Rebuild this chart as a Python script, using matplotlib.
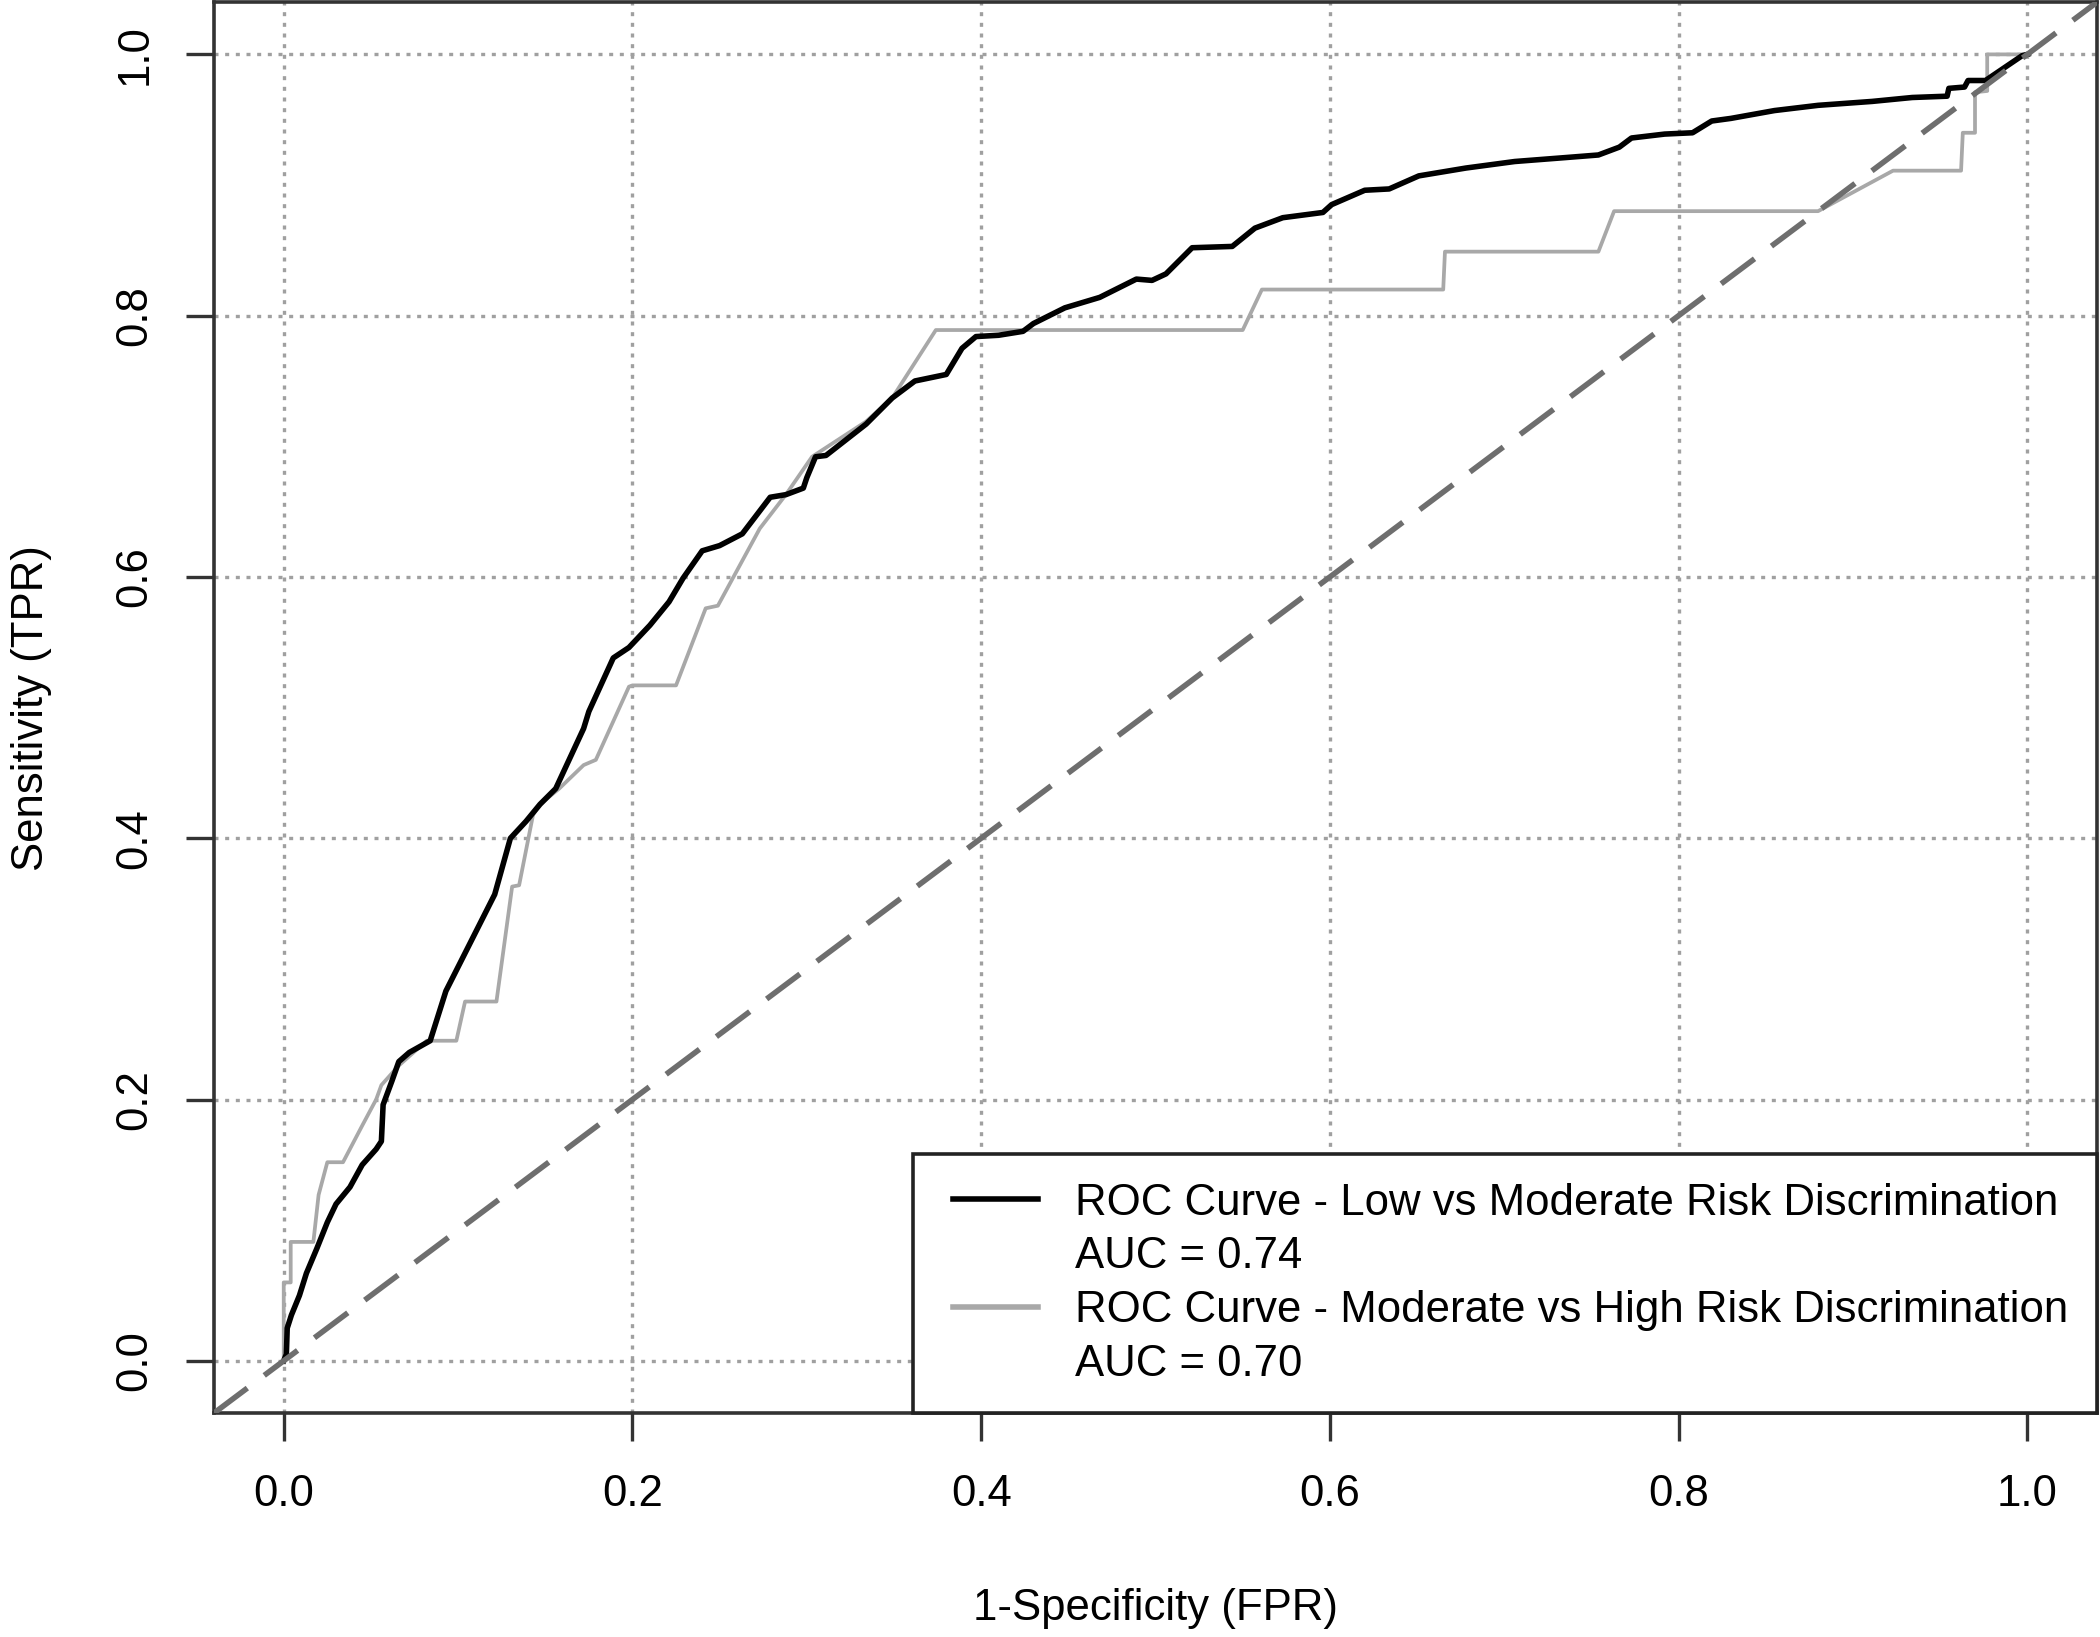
import matplotlib
matplotlib.use('Agg')
import matplotlib.pyplot as plt
from matplotlib.lines import Line2D
from matplotlib.legend_handler import HandlerLine2D

plt.rcParams['font.family'] = ['Liberation Sans', 'DejaVu Sans']

# --- data (FPR, TPR) ---
fpr_low_mod = [0.0, 0.0015, 0.002, 0.0044, 0.009, 0.013, 0.019, 0.025, 0.03, 0.038,
               0.045, 0.053, 0.056, 0.057, 0.062, 0.066, 0.072, 0.084, 0.093, 0.107,
               0.121, 0.13, 0.139, 0.147, 0.156, 0.172, 0.175, 0.189, 0.198, 0.21,
               0.221, 0.229, 0.24, 0.25, 0.263, 0.279, 0.288, 0.298, 0.30, 0.305,
               0.311, 0.334, 0.349, 0.362, 0.38, 0.389, 0.397, 0.41, 0.424, 0.43,
               0.448, 0.468, 0.489, 0.498, 0.506, 0.521, 0.544, 0.557, 0.573, 0.596,
               0.601, 0.62, 0.634, 0.651, 0.678, 0.706, 0.735, 0.754, 0.766, 0.773,
               0.792, 0.808, 0.819, 0.83, 0.855, 0.88, 0.911, 0.934, 0.954, 0.955,
               0.964, 0.966, 0.976, 0.997, 1.0]
tpr_low_mod = [0.0, 0.005, 0.025, 0.035, 0.05, 0.067, 0.086, 0.106, 0.12, 0.133,
               0.15, 0.162, 0.168, 0.196, 0.214, 0.229, 0.236, 0.245, 0.283, 0.32,
               0.357, 0.4, 0.413, 0.426, 0.438, 0.484, 0.497, 0.538, 0.546, 0.563,
               0.581, 0.599, 0.62, 0.624, 0.633, 0.661, 0.663, 0.668, 0.676, 0.692,
               0.693, 0.717, 0.737, 0.75, 0.755, 0.775, 0.784, 0.785, 0.788, 0.794,
               0.806, 0.814, 0.828, 0.827, 0.832, 0.852, 0.853, 0.867, 0.875, 0.879,
               0.885, 0.896, 0.897, 0.907, 0.913, 0.918, 0.921, 0.923, 0.929, 0.936,
               0.939, 0.94, 0.949, 0.951, 0.957, 0.961, 0.964, 0.967, 0.968, 0.974,
               0.975, 0.98, 0.98, 0.999, 1.0]

fpr_mod_high = [0.0, 0.0, 0.004, 0.004, 0.017, 0.02, 0.025, 0.034, 0.045, 0.053,
                0.056, 0.066, 0.082, 0.099, 0.104, 0.122, 0.131, 0.135, 0.143, 0.147,
                0.158, 0.172, 0.179, 0.198, 0.2, 0.225, 0.242, 0.249, 0.273, 0.288,
                0.303, 0.334, 0.349, 0.374, 0.55, 0.561, 0.665, 0.666, 0.754, 0.763,
                0.88, 0.923, 0.962, 0.963, 0.97, 0.97, 0.977, 0.977, 1.0]
tpr_mod_high = [0.0, 0.06, 0.06, 0.091, 0.091, 0.127, 0.152, 0.152, 0.18, 0.2,
                0.211, 0.226, 0.245, 0.245, 0.275, 0.275, 0.363, 0.364, 0.418, 0.426,
                0.438, 0.456, 0.46, 0.516, 0.517, 0.517, 0.576, 0.578, 0.637, 0.663,
                0.692, 0.719, 0.737, 0.789, 0.789, 0.82, 0.82, 0.849, 0.849, 0.88,
                0.88, 0.911, 0.911, 0.94, 0.94, 0.971, 0.972, 1.0, 1.0]

labels = ["ROC Curve - Low vs Moderate Risk Discrimination", "AUC = 0.74",
          "ROC Curve - Moderate vs High Risk Discrimination", "AUC = 0.70"]
ticks = [0.0, 0.2, 0.4, 0.6, 0.8, 1.0]
tick_labels = ["0.0", "0.2", "0.4", "0.6", "0.8", "1.0"]

fs = 31.5
fig = plt.figure(figsize=(21, 16.37), dpi=100)
ax = fig.add_axes([0.1019, 0.1368, 0.8967, 0.8619])
ax.set_xlim(-0.04, 1.04)
ax.set_ylim(-0.04, 1.04)

# dotted grid at the ticks
for t in ticks:
    ax.axvline(t, color='#a0a0a0', lw=2.4, dashes=(1.2, 2.0), zorder=0)
    ax.axhline(t, color='#a0a0a0', lw=2.4, dashes=(1.2, 2.0), zorder=0)

ax.plot(fpr_low_mod, tpr_low_mod, color='black', lw=4.0, zorder=3)
ax.plot(fpr_mod_high, tpr_mod_high, color='#a8a8a8', lw=2.7, zorder=2)
ax.axline((0, 0), (1, 1), color='#6e6e6e', lw=4.0, dashes=(7.5, 3.8), zorder=4)

ax.set_xticks(ticks)
ax.set_xticklabels(tick_labels)
ax.set_yticks(ticks)
ax.set_yticklabels(tick_labels, rotation=90, va='center')
ax.tick_params(length=20, width=2.4, color='#333333', labelsize=fs)
ax.tick_params(axis='x', pad=24)
ax.tick_params(axis='y', pad=22)
for sp in ax.spines.values():
    sp.set_color('#333333')
    sp.set_linewidth(2.6)

ax.set_xlabel("1-Specificity (FPR)", fontsize=fs, va='center')
ax.xaxis.set_label_coords(0.5, -0.1383)
ax.set_ylabel("Sensitivity (TPR)", fontsize=fs, va='center')
ax.yaxis.set_label_coords(-0.0967, 0.5)

# R-style legend: line on the title rows, no handle on the AUC rows
handles = [Line2D([], [], color='black', lw=4.0),
           Line2D([], [], color='none'),
           Line2D([], [], color='#a8a8a8', lw=4.0),
           Line2D([], [], color='none')]
leg = ax.legend(handles, labels, loc='lower right', bbox_to_anchor=(1, 0),
                borderaxespad=0, fontsize=fs, frameon=True, fancybox=False,
                handlelength=2.22, handletextpad=0.85, labelspacing=0.29,
                borderpad=0.65, framealpha=1,
                handler_map={Line2D: HandlerLine2D(xpad=0.27)})
leg.get_frame().set_edgecolor('#222222')
leg.get_frame().set_linewidth(2.6)
leg.set_zorder(10)

plt.savefig('out.png', dpi=100)
